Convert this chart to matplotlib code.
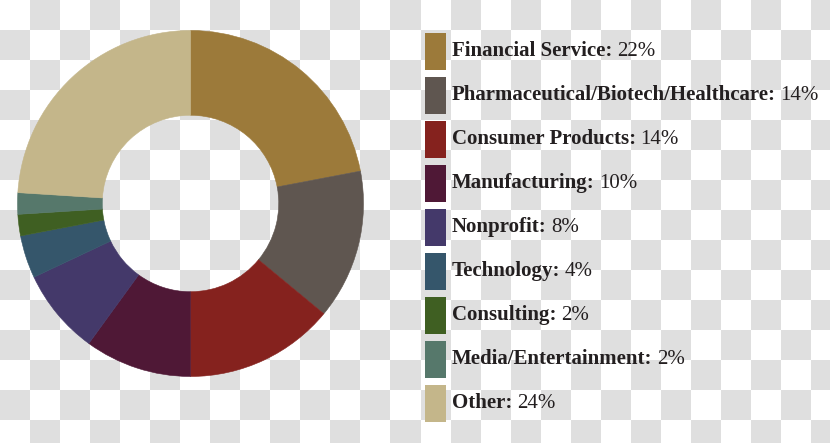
import numpy as np
import matplotlib
matplotlib.use("Agg")
import matplotlib.pyplot as plt
from matplotlib.patches import Rectangle

categories = ["Financial Service", "Pharmaceutical/Biotech/Healthcare", "Consumer Products",
              "Manufacturing", "Nonprofit", "Technology", "Consulting",
              "Media/Entertainment", "Other"]
shares = [22, 14, 14, 10, 8, 4, 2, 2, 24]
colors = ["#9c7a3a", "#5f5650", "#85221e", "#4f1836", "#44396a",
          "#35566b", "#3f5f22", "#56786b", "#c4b68a"]

W, H = 830, 443
fig = plt.figure(figsize=(W / 100, H / 100), dpi=100)

# checkerboard background
bg = fig.add_axes([0, 0, 1, 1], zorder=-10)
yy, xx = np.indices((H, W))
chk = ((yy // 30 + xx // 30) % 2).astype(float)
img = np.where(chk[..., None] == 1, np.array([0.878, 0.878, 0.878]), np.array([1.0, 1.0, 1.0]))
bg.imshow(img, extent=[0, W, H, 0], aspect="auto", interpolation="nearest")
bg.set_xlim(0, W)
bg.set_ylim(H, 0)
bg.axis("off")

# donut
cx, cy, r = 190.5, 203.5, 173
ax = fig.add_axes([(cx - r) / W, (H - cy - r) / H, 2 * r / W, 2 * r / H])
ax.pie(shares, colors=colors, startangle=90, counterclock=False, radius=1,
       wedgeprops=dict(width=0.49, edgecolor="none", linewidth=0, antialiased=True))
for w in ax.patches:
    w.set_edgecolor(w.get_facecolor())
    w.set_linewidth(0.4)
ax.set_xlim(-1, 1)
ax.set_ylim(-1, 1)
ax.set_aspect("equal")
ax.axis("off")

# legend (pixel coordinates on the background axes)
fig.canvas.draw()
renderer = fig.canvas.get_renderer()
top0, step = 33, 44
fs = 15
for i, (cat, s, c) in enumerate(zip(categories, shares, colors)):
    top = top0 + i * step
    bg.add_patch(Rectangle((425, top), 21, 37, facecolor=c, edgecolor="none"))
    t = bg.text(452, top + 23, cat + ":", fontsize=fs, fontweight="bold",
                family="Liberation Serif", color="#231f20", va="baseline", ha="left")
    ext = t.get_window_extent(renderer=renderer)
    x_end = ext.x1
    bg.text(x_end + 4.5, top + 23, f"{s}%", fontsize=fs,
            family="Liberation Serif", color="#231f20", va="baseline", ha="left")

fig.savefig("out.png", dpi=100)
